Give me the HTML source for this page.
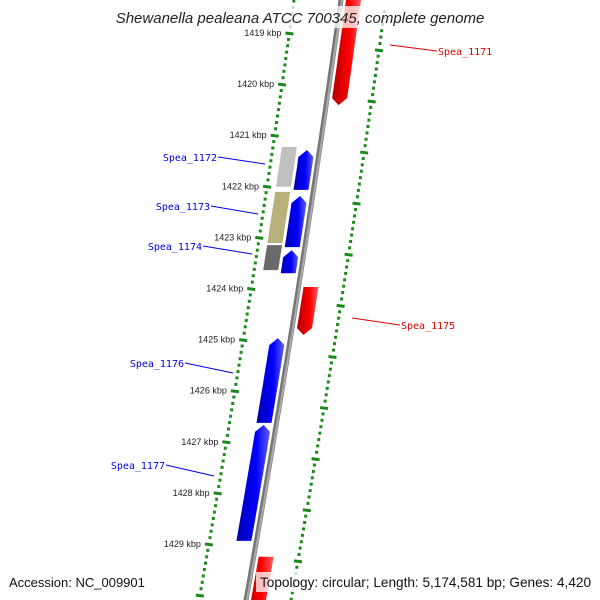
<!DOCTYPE html>
<html><head><meta charset="utf-8"><style>
html,body{margin:0;background:#fff;width:600px;height:600px;overflow:hidden}
svg{display:block;font-family:"Liberation Sans","DejaVu Sans",sans-serif;overflow:hidden}
</style></head><body>
<svg id="map" width="600" height="600" viewBox="0 0 600 600">
<defs>
<linearGradient id="gb" x1="0" x2="1"><stop offset="0" stop-color="#0000b0"/><stop offset="0.6" stop-color="#0000ff"/><stop offset="1" stop-color="#6060ff"/></linearGradient>
<linearGradient id="gr" x1="0" x2="1"><stop offset="0" stop-color="#b00000"/><stop offset="0.6" stop-color="#ff0000"/><stop offset="1" stop-color="#ff6060"/></linearGradient>
<clipPath id="cp"><rect x="0" y="0" width="600" height="600"/></clipPath>
</defs>
<g id="layer" clip-path="url(#cp)"></g>
<rect x="111" y="6" width="380" height="22" fill="#fff" fill-opacity="0.75"/>
<text x="300" y="23" text-anchor="middle" font-size="15" font-style="italic" fill="#222">Shewanella pealeana ATCC 700345, complete genome</text>
<rect x="4" y="572" width="145" height="20" fill="#fff" fill-opacity="0.75"/>
<text x="9" y="587" font-size="13" fill="#111">Accession: NC_009901</text>
<rect x="256" y="572" width="340" height="20" fill="#fff" fill-opacity="0.75"/>
<text x="260" y="587" font-size="13.6" fill="#111">Topology: circular; Length: 5,174,581 bp; Genes: 4,420</text>
</svg>
<script>
const tickKbp=[1419,1420,1421,1422,1423,1424,1425,1426,1427,1428,1429];
const geneNames=["Spea_1171","Spea_1172","Spea_1173","Spea_1174","Spea_1175","Spea_1176","Spea_1177","Spea_1178"];
const geneStart=[1418.3,1421.29,1422.19,1423.25,1423.97,1424.97,1426.67,1429.25];
const geneEnd=[1420.41,1422.07,1423.19,1423.70,1424.91,1426.63,1428.94,1431.0];
const geneStrand=[1,-1,-1,-1,1,-1,-1,1];
const geneLabelShown=[true,true,true,true,true,true,true,false];
const cogStart=[1421.23,1422.11,1423.15];
const cogEnd=[1422.01,1423.11,1423.64];
const cogColor=["#c0c0c0","#b8b07a","#6a6a6a"];
// label layout (pixel positions, not data)
const labelLayout=[[438,51,390,45],[217,157,265,164],[210,206,258,214],[202,246,252,254],[401,325,352,318],[184,363,233,373],[165,465,214,476]];
const NS="http://www.w3.org/2000/svg";
const layer=document.getElementById('layer');
function yOf(k){return 33+(k-1419)*51.1;}
function xOf(y){return 341-0.1385*y-0.000033*y*y;}
function mk(t,a){const e=document.createElementNS(NS,t);for(const k in a)e.setAttribute(k,a[k]);layer.appendChild(e);return e;}
let d="";for(let y=-5;y<=605;y+=5){d+=(y==-5?"M":"L")+xOf(y).toFixed(1)+","+y;}
let bb=mk('path',{d:d,stroke:"#777",'stroke-width':5,fill:"none"});


let bb2=mk('path',{d:d,stroke:"#aaa",'stroke-width':2,fill:"none",transform:"translate(1,0)"});


function ring(off,majOff,name){
  for(let i=-6;i<=100;i++){
    const kr=1419+majOff+i*0.125;const y=yOf(kr);if(y<-5||y>605)continue;
    const x=xOf(y)+off;
    const major=(i%8===0);
    const w=major?8:3;
    const t=mk('line',{x1:x-w/2,x2:x+w/2,y1:y,y2:y+(major?1:0),stroke:"#1a8a1a",'stroke-width':3});
    
    
  }
}
ring(-47,0,'inner-ring');
ring(45,0.33,'outer-ring');
tickKbp.forEach(k=>{const y=yOf(k);const x=xOf(y)-55;
  const t=mk('text',{x:x,y:y+3,'text-anchor':'end','font-size':9,fill:"#222"});t.textContent=k+" kbp";
  
  });
function strip(s,e,o1,o2,arrow,fill,name){
  let ys=yOf(s),ye=yOf(e);
  const pts=[];const N=10;
  if(arrow<0){
    const yh=ys+7;pts.push([(xOf(ys)+(o1+o2)/2),ys]);
    for(let i=0;i<=N;i++){const y=yh+(ye-yh)*i/N;pts.push([xOf(y)+o2,y]);}
    for(let i=N;i>=0;i--){const y=yh+(ye-yh)*i/N;pts.push([xOf(y)+o1,y]);}
  } else if(arrow>0){
    const yh=ye-7;
    for(let i=0;i<=N;i++){const y=ys+(yh-ys)*i/N;pts.push([xOf(y)+o2,y]);}
    pts.push([xOf(ye)+(o1+o2)/2,ye]);
    for(let i=N;i>=0;i--){const y=ys+(yh-ys)*i/N;pts.push([xOf(y)+o1,y]);}
  } else {
    for(let i=0;i<=N;i++){const y=ys+(ye-ys)*i/N;pts.push([xOf(y)+o2,y]);}
    for(let i=N;i>=0;i--){const y=ys+(ye-ys)*i/N;pts.push([xOf(y)+o1,y]);}
  }
  const p=mk('polygon',{points:pts.map(q=>q[0].toFixed(1)+","+q[1].toFixed(1)).join(" "),fill:fill});
  
  
}
cogStart.forEach((s,i)=>strip(s,cogEnd[i],-38,-23,0,cogColor[i],'cog-box-'+geneNames[i+1].toLowerCase().replace('_','-')));
geneNames.forEach((n,i)=>{
  const fwd=geneStrand[i]>0;
  strip(geneStart[i],geneEnd[i],fwd?5:-20,fwd?20:-5,fwd?1:-1,fwd?"url(#gr)":"url(#gb)",'gene-'+n.toLowerCase().replace('_','-'));
  if(!geneLabelShown[i])return;
  const col=fwd?"#e00000":"#0000ee";
  const L=labelLayout[i];
  const l=mk('line',{x1:L[2],y1:L[3],x2:fwd?L[0]-1:L[0]+1,y2:L[1],stroke:col,'stroke-width':1});
  
  
  const t=mk('text',{x:L[0],y:L[1]+4,'text-anchor':fwd?'start':'end','font-size':10,fill:col,'font-family':'"DejaVu Sans Mono","Liberation Mono",monospace'});
  t.textContent=n;
  
  
});
</script>
</body></html>
